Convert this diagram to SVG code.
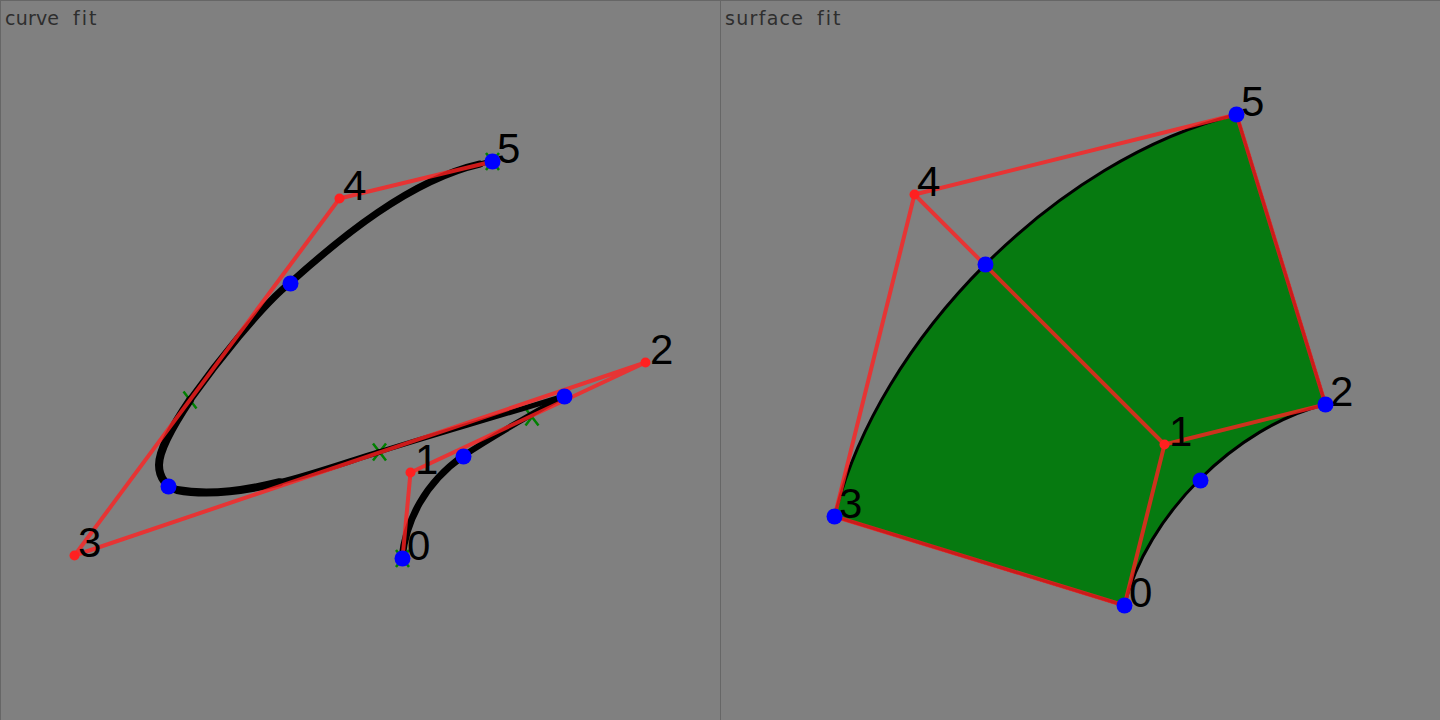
<svg xmlns="http://www.w3.org/2000/svg" width="1440" height="720" viewBox="0 0 1440 720">
<style>
.lb{font-family:"Liberation Sans",Arial,sans-serif;font-size:42px;fill:#000}
.t{font-family:"DejaVu Sans",sans-serif;font-size:19px;fill:#2e2e2e}
.r{fill:none;stroke:#ff2020;stroke-opacity:.8;stroke-width:4;stroke-linejoin:round}
.g{fill:none;stroke:#008000;stroke-width:2.5}
.k{fill:none;stroke:#000;stroke-linecap:round;stroke-linejoin:round}
.c{fill:#ff2020}
.b{fill:#0000ff}
</style>
<defs><path id="x" class="g" d="M-6.5,-8.5L6.5,8.5M6.5,-8.5L-6.5,8.5"/></defs>
<rect width="1440" height="720" fill="#808080"/>
<path d="M.5,0V720M720.5,0V720M0,.5H1440" fill="none" stroke="#666" stroke-width="1"/>
<text class="t" x="5" y="25" letter-spacing=".2">curve<tspan x="73" letter-spacing="2">fit</tspan></text>
<text class="t" x="725" y="25" letter-spacing="1.3">surface<tspan x="817" letter-spacing="2">fit</tspan></text>
<g id="connectors">
<g id="curve-ticks">
<use href="#x" x="402.5" y="558.5"/><use href="#x" x="532" y="417"/><use href="#x" x="379.500" y="452"/><use href="#x" x="190" y="400"/><use href="#x" x="492.500" y="161.500"/>
</g>
<g id="curve">
<path class="k" stroke-width="7" d="M402,558C406,520 425,483 463,456"/>
<path class="k" stroke-width="6" d="M463,456C490,438 530,415 564,396"/>
<path class="k" stroke-width="5" d="M564,396C500,416 440,433 379,452"/>
<path class="k" stroke-width="6" d="M379,452C349.500,461 314.750,473.500 279.500,482.250"/>
<path class="k" stroke-width="8" d="M279.500,482.250C244.250,491 208.500,496 177,490C167,487 159,478 159,465C159,450 172,427 190,400"/>
<path class="k" stroke-width="7" d="M190,400C215,365 262,305 290,283C340,238 410,180 480,164"/>
<path class="k" stroke-width="5" d="M480,164L492,161"/>
</g>
<path id="surface" fill="#067a10" stroke="#000" stroke-width="3" d="M1124.500,605.500C1146,516 1236,426 1325.500,404.500L1236.500,114.500C1058,158 878,338 834.500,516.500Z"/>
<path id="curve-hull" class="r" d="M402.500,558.500L410.500,472.500L645.500,362.500L74.500,555.500L339.500,198.500L492.500,161.500"/>
<path id="surface-hull" class="r" d="M834.500,516.500L1124.500,605.500L1164.500,444.500L1325.500,404.500L1236.500,114.500L914.500,194.500L834.500,516.500M914.500,194.500L1164.500,444.500"/>
</g>
<g id="curve-p0"><text class="lb" x="407" y="560">0</text><circle class="b" cx="402.500" cy="558.500" r="8"/></g>
<g id="curve-p1"><text class="lb" x="415" y="474">1</text><circle class="c" cx="410.500" cy="472.500" r="5"/></g>
<g id="curve-p2"><text class="lb" x="650" y="364">2</text><circle class="c" cx="645.500" cy="362.500" r="5"/></g>
<g id="curve-p3"><text class="lb" x="78" y="557">3</text><circle class="c" cx="74.500" cy="555.500" r="5"/></g>
<g id="curve-p4"><text class="lb" x="343" y="200">4</text><circle class="c" cx="339.500" cy="198.500" r="5"/></g>
<g id="curve-p5"><text class="lb" x="497" y="163">5</text><circle class="b" cx="492.500" cy="161.500" r="8"/></g>
<g id="curve-m1"><circle class="b" cx="463.500" cy="456.500" r="8"/></g>
<g id="curve-m2"><circle class="b" cx="564.500" cy="396.500" r="8"/></g>
<g id="curve-m3"><circle class="b" cx="168.500" cy="486.500" r="8"/></g>
<g id="curve-m4"><circle class="b" cx="290.500" cy="283.500" r="8"/></g>
<g id="surface-p0"><text class="lb" x="1129" y="607">0</text><circle class="b" cx="1124.500" cy="605.500" r="8"/></g>
<g id="surface-p1"><text class="lb" x="1169" y="446">1</text><circle class="c" cx="1164.500" cy="444.500" r="5"/></g>
<g id="surface-p2"><text class="lb" x="1330" y="406">2</text><circle class="b" cx="1325.500" cy="404.500" r="8"/></g>
<g id="surface-p3"><text class="lb" x="839" y="518">3</text><circle class="b" cx="834.500" cy="516.500" r="8"/></g>
<g id="surface-p4"><text class="lb" x="917" y="196">4</text><circle class="c" cx="914.500" cy="194.500" r="5"/></g>
<g id="surface-p5"><text class="lb" x="1241" y="116">5</text><circle class="b" cx="1236.500" cy="114.500" r="8"/></g>
<g id="surface-m1"><circle class="b" cx="1200.500" cy="480.500" r="8"/></g>
<g id="surface-m2"><circle class="b" cx="985.500" cy="264.500" r="8"/></g>
</svg>
